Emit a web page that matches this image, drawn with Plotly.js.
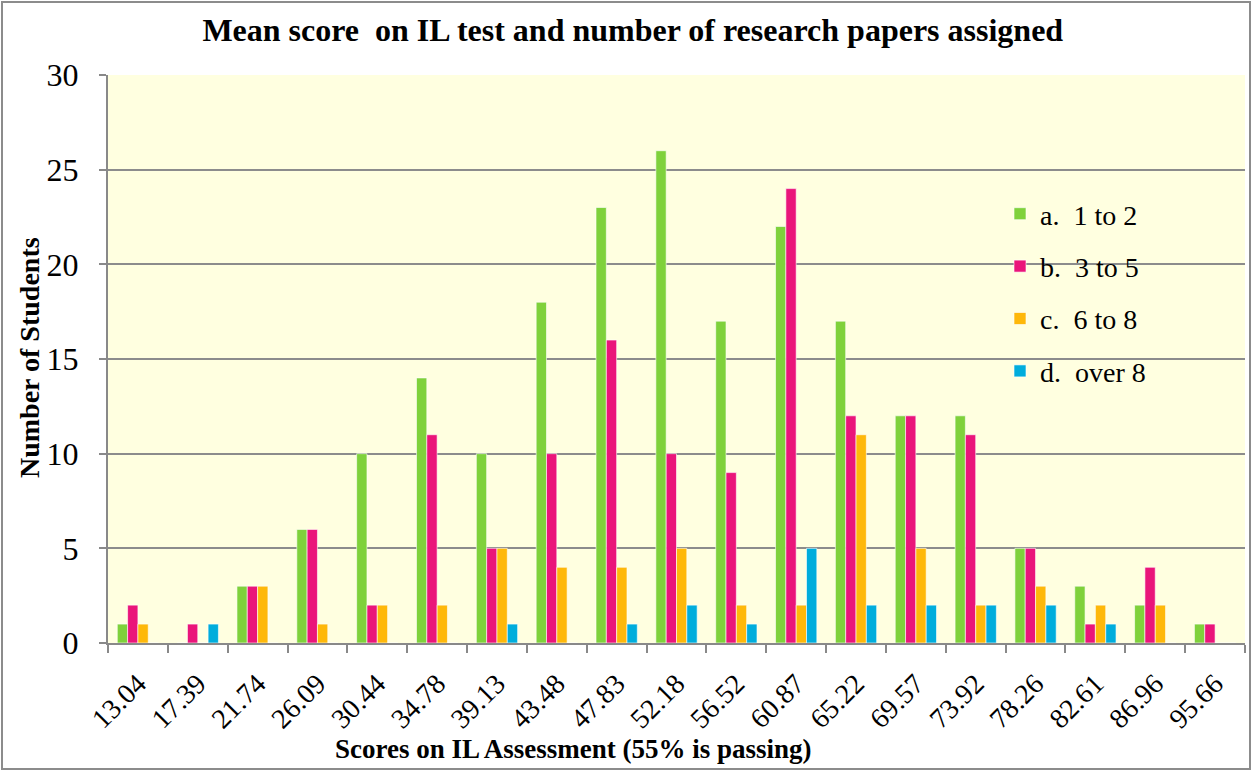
<!DOCTYPE html>
<html>
<head>
<meta charset="utf-8">
<script src="https://cdn.plot.ly/plotly-3.0.1.min.js"></script>
<style>html,body{margin:0;padding:0;background:#fff;}#chart{width:1253px;height:772px;}</style>
</head>
<body>
<div id="chart"></div>
<script>
const categories = ["13.04","17.39","21.74","26.09","30.44","34.78","39.13","43.48","47.83","52.18","56.52","60.87","65.22","69.57","73.92","78.26","82.61","86.96","95.66"];
const seriesNames = ["a.\u00a0\u00a01 to 2","b.\u00a0\u00a03 to 5","c.\u00a0\u00a06 to 8","d.\u00a0\u00a0over 8"];
const a_1to2  = [1,0,3,6,10,14,10,18,23,26,17,22,17,12,12,5,3,2,1];
const b_3to5  = [2,1,3,6,2,11,5,10,16,10,9,24,12,12,11,5,1,4,1];
const c_6to8  = [1,0,3,1,2,2,5,4,4,5,2,2,11,5,2,3,2,2,0];
const d_over8 = [0,1,0,0,0,0,1,0,1,2,1,5,2,2,2,2,1,0,0];
const colors = ["#7FD13B","#EA157A","#FEB80A","#00ADDC"];

const values = [a_1to2, b_3to5, c_6to8, d_over8];
const traces = values.map((v,i)=>({
  type:'bar', x:categories, y:v, name:seriesNames[i], legendgroup:'g'+i,
  marker:{color:colors[i], line:{color:'rgba(255,255,255,0.6)', width:1}},
  hoverinfo:'x+y+name'
}));

const font = "Liberation Serif";
const L = 108, T = 75, W = 1137, H = 568;
const px = x => (x - L) / W;
const py = y => (T + H - y) / H;
const layout = {
  width:1253, height:772,
  paper_bgcolor:'#ffffff', plot_bgcolor:'#FFFFE0',
  margin:{l:L, r:1253-L-W, t:T, b:772-T-H},
  barmode:'group', bargap:0.31, bargroupgap:0,
  font:{family:font, size:26, color:'#000'},
  title:{text:'<b>Mean score  on IL test and number of research papers assigned</b>', x:0.505, xanchor:'center', y:0.962, yanchor:'middle', font:{family:font, size:32, color:'#000'}},
  xaxis:{type:'category', tickson:'boundaries', ticks:'outside', ticklen:8, tickwidth:2, tickcolor:'#898989',
         showline:true, linecolor:'#898989', linewidth:2, tickangle:-45, tickfont:{family:font,size:28},
         showgrid:false, zeroline:false, automargin:false, ticklabelstandoff:11},
  yaxis:{range:[0,30], dtick:5, ticks:'outside', ticklen:7, tickwidth:2, tickcolor:'#898989',
         showline:true, linecolor:'#898989', linewidth:2, gridcolor:'#8C8C8C', gridwidth:2,
         tickfont:{family:font,size:32}, zeroline:false, automargin:false, ticklabelstandoff:14},
  legend:{x:px(1000), y:py(189), xanchor:'left', yanchor:'top', bgcolor:'rgba(0,0,0,0)',
          font:{family:font,size:28}, tracegroupgap:13, traceorder:'grouped'},
  annotations:[
    {text:'<b>Scores on IL Assessment (55% is passing)</b>', xref:'paper', yref:'paper',
     x:px(573), y:py(749), xanchor:'center', yanchor:'middle', showarrow:false,
     font:{family:font,size:27,color:'#000'}},
    {text:'<b>Number of Students</b>', xref:'paper', yref:'paper', textangle:-90,
     x:px(30), y:py(358), xanchor:'center', yanchor:'middle', showarrow:false,
     font:{family:font,size:28,color:'#000'}}
  ],
  shapes:[{type:'rect', xref:'paper', yref:'paper', x0:px(2), x1:px(1250),
    y0:py(769), y1:py(2), line:{color:'#8C8C8C', width:2}, fillcolor:'rgba(0,0,0,0)'}]
};
Plotly.newPlot('chart', traces, layout, {displayModeBar:false, staticPlot:true});
</script>
</body>
</html>
